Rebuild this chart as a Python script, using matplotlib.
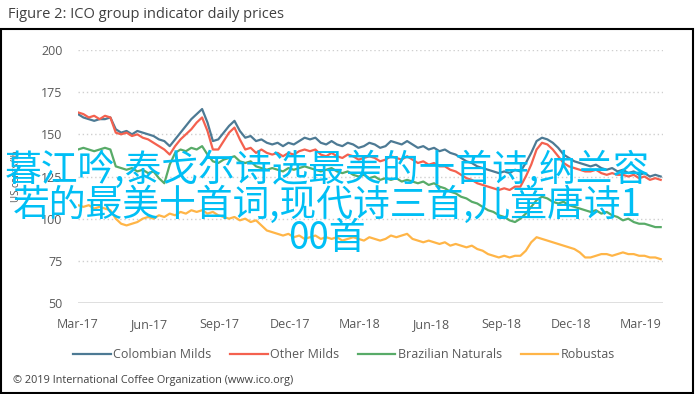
import numpy as np
import pandas as pd
import matplotlib
matplotlib.use('Agg')
import matplotlib.pyplot as plt
import matplotlib.dates as mdates
from matplotlib.patches import Rectangle

# weekly readings, US cents/lb
dates = pd.date_range('2017-03-01', periods=109, freq='7D')

colombian = [162, 160, 159, 158, 159, 159, 160, 153, 151, 152, 150, 152, 151, 150, 149, 147,
             146, 143, 147, 151, 155, 159, 162, 165, 157, 146, 147, 151, 155, 158, 152, 148,
             149, 146, 147, 145, 144, 145, 143, 145, 144, 146, 148, 147, 148, 145, 144, 146,
             144, 143, 145, 144, 142, 143, 145, 144, 142, 143, 146, 145, 144, 146, 144, 142,
             143, 141, 142, 140, 141, 139, 138, 136, 134, 133, 131, 130, 129, 128, 127, 128,
             127, 129, 128, 133, 139, 146, 148, 147, 145, 142, 138, 136, 134, 133, 132, 131,
             132, 130, 129, 130, 128, 129, 127, 128, 126, 127, 125, 126, 125]
other_milds = [163, 162, 160, 161, 159, 161, 160, 151, 150, 151, 149, 150, 148, 147, 145, 143,
               141, 138, 143, 147, 150, 153, 157, 160, 152, 141, 141, 146, 151, 154, 147, 141,
               142, 139, 141, 139, 138, 139, 137, 139, 138, 140, 141, 140, 141, 138, 137, 139,
               137, 136, 138, 137, 135, 136, 137, 136, 134, 135, 137, 136, 135, 137, 135, 133,
               134, 132, 133, 131, 131, 129, 128, 126, 124, 123, 121, 120, 119, 118, 117, 118,
               117, 119, 119, 125, 132, 141, 145, 144, 141, 137, 133, 131, 130, 129, 128, 128,
               129, 127, 126, 127, 126, 126, 125, 126, 124, 125, 123, 124, 123]
brazilian = [141, 142, 141, 140, 141, 142, 141, 131, 130, 129, 130, 128, 129, 127, 128, 124,
             121, 132, 139, 141, 140, 142, 141, 143, 138, 134, 133, 135, 136, 137, 134, 133,
             134, 131, 130, 129, 130, 129, 128, 130, 129, 130, 131, 130, 129, 128, 129, 130,
             128, 127, 128, 126, 125, 126, 124, 125, 123, 124, 123, 124, 122, 123, 122, 121,
             122, 120, 121, 119, 118, 116, 115, 113, 112, 110, 109, 107, 105, 104, 102, 101,
             99, 98, 100, 103, 107, 111, 113, 112, 110, 109, 110, 108, 107, 106, 105, 104,
             105, 103, 104, 102, 101, 99, 100, 98, 97, 97, 96, 95, 95]
robustas = [108, 107, 108, 106, 107, 106, 105, 100, 97, 96, 97, 98, 100, 101, 100, 102,
            101, 103, 102, 104, 103, 105, 104, 105, 103, 104, 102, 101, 100, 101, 99, 100,
            98, 99, 96, 93, 92, 91, 90, 91, 89, 90, 88, 89, 90, 88, 89, 88,
            89, 87, 88, 89, 88, 87, 89, 88, 87, 88, 90, 89, 90, 91, 88, 87,
            86, 87, 86, 85, 86, 84, 85, 84, 83, 84, 82, 81, 79, 78, 77, 78,
            77, 78, 78, 81, 86, 89, 88, 87, 86, 85, 84, 83, 82, 80, 77, 77,
            78, 79, 79, 78, 79, 80, 79, 79, 78, 78, 77, 77, 76]

series_names = ['Colombian Milds', 'Other Milds', 'Brazilian Naturals', 'Robustas']
series_colors = ['#4d7a94', '#f4614f', '#58ab68', '#ffb547']
y_ticks = [50, 75, 100, 125, 150, 175, 200]
x_ticks = pd.to_datetime(['2017-03-01', '2017-06-01', '2017-09-01', '2017-12-01', '2018-03-01',
                          '2018-06-01', '2018-09-01', '2018-12-01', '2019-03-01'])

overlay = ['暮江吟,泰戈尔诗选最美的十首诗,纳兰容', '若的最美十首词,现代诗三首,儿童唐诗1', '00首']

plt.rcParams['font.family'] = ['Open Sans', 'DejaVu Sans']
fig = plt.figure(figsize=(6.95, 3.94), dpi=100)
ax = fig.add_axes([78 / 695, 1 - 303 / 394, (663 - 78) / 695, (303 - 50) / 394])

for vals, name, col in zip([colombian, other_milds, brazilian, robustas], series_names, series_colors):
    ax.plot(dates, vals, color=col, lw=1.6, label=name)

ax.set_ylim(50, 200)
ax.set_xlim(pd.Timestamp('2017-03-01'), pd.Timestamp('2019-03-30'))
ax.set_yticks(y_ticks)
ax.set_xticks(x_ticks)
ax.xaxis.set_major_formatter(mdates.DateFormatter('%b-%y'))
ax.tick_params(length=0, labelsize=9, colors='#595959')
ax.tick_params(axis='x', pad=11)
ax.tick_params(axis='y', pad=11)
for y in y_ticks[1:]:
    ax.axhline(y, color='#cfcfcf', lw=1, ls=(0, (1, 2)), zorder=0)
ax.axhline(50, color='#d9d9d9', lw=1.2, zorder=0)
for s in ax.spines.values():
    s.set_visible(False)
ax.set_ylabel('US cents/lb', fontsize=7, color='#595959', labelpad=14)

fig.text(8 / 695, 1 - 14 / 394, 'Figure 2: ICO group indicator daily prices', fontsize=10.5,
         color='#404040', va='center', ha='left')
fig.patches.append(Rectangle((1 / 695, 1 / 394), 692 / 695, 364 / 394,
                             transform=fig.transFigure, fill=False, ec='black', lw=1.5))

fig.legend(loc='center', bbox_to_anchor=(344 / 695, 1 - 355 / 394), ncol=4, frameon=False,
           fontsize=9, handlelength=3.0, handletextpad=0.2, columnspacing=1.5,
           labelcolor='#595959')

fig.text(13 / 695, 1 - 381 / 394, '\u00a9 2019 International Coffee Organization (www.ico.org)',
         fontsize=7.8, color='#404040', va='center', ha='left')

ys = [170, 205, 239]
for line, yy in zip(overlay, ys):
    fig.text(327 / 695, 1 - yy / 394, line, fontsize=26.5, color='#00bff5', ha='center', va='center',
             family=['Noto Sans CJK SC', 'DejaVu Sans'])

fig.savefig('out.png', dpi=100)
